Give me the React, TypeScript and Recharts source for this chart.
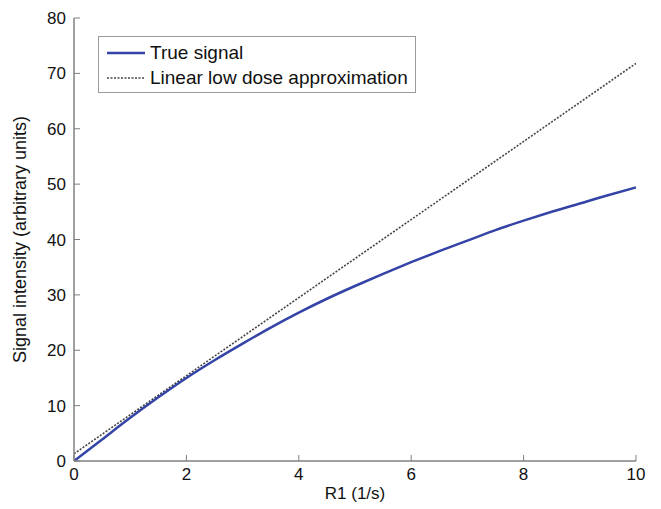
import React from "react";
import { LineChart, Line, XAxis, YAxis } from "recharts";

// R1 (1/s) sample points and signal
const r1Values = [0, 0.5, 1, 1.5, 2, 2.5, 3, 3.5, 4, 4.5, 5, 5.5, 6, 6.5, 7, 7.5, 8, 8.5, 9, 9.5, 10];
const trueSignal = [0, 3.9, 7.8, 11.5, 15.0, 18.2, 21.2, 24.1, 26.8, 29.3, 31.6, 33.8, 35.9, 37.9, 39.8, 41.7, 43.4, 45.0, 46.5, 48.0, 49.4];
const linearR1 = [0, 10];
const linearSignal = [1.3, 71.8];

const xTicks = [0, 2, 4, 6, 8, 10];
const yTicks = [0, 10, 20, 30, 40, 50, 60, 70, 80];

const trueData = r1Values.map((r1, i) => ({ r1, signal: trueSignal[i] }));
const linearData = linearR1.map((r1, i) => ({ r1, signal: linearSignal[i] }));

const FONT = '"Liberation Sans", Arial, sans-serif';
const AXIS = "#808080";
const BLUE = "#3343a6";
const DOT = "#444";

const legendItems = [
  { name: "True signal", color: BLUE, width: 2.5, dash: undefined as string | undefined },
  { name: "Linear low dose approximation", color: DOT, width: 1.5, dash: "2 1.5" },
];

const noTick = () => <g />;

const LegendBox = () => (
  <div
    style={{
      position: "absolute",
      left: 90,
      top: 28,
      border: "1px solid #9a9a9a",
      background: "#fff",
      width: 318,
      height: 57,
      boxSizing: "border-box",
      padding: "3px 0 0 8px",
      fontFamily: FONT,
      fontSize: 19,
      color: "#111",
    }}
  >
    {legendItems.map((it) => (
      <div key={it.name} style={{ display: "flex", alignItems: "center", height: 25 }}>
        <svg width={38} height={6} style={{ marginRight: 5 }}>
          <line x1={0} y1={3} x2={38} y2={3} stroke={it.color} strokeWidth={it.width} strokeDasharray={it.dash} />
        </svg>
        <span>{it.name}</span>
      </div>
    ))}
  </div>
);

export default function App() {
  return (
    <div style={{ fontFamily: FONT, position: "relative", width: 645, height: 495 }}>
      <LineChart width={645} height={495} margin={{ top: 10, right: 17, left: 0, bottom: 0 }}>
        <XAxis
          xAxisId="b"
          dataKey="r1"
          type="number"
          domain={[0, 10]}
          ticks={xTicks}
          allowDataOverflow
          height={42}
          tickSize={-6}
          tickMargin={13}
          axisLine={{ stroke: AXIS, strokeWidth: 1.5 }}
          tickLine={{ stroke: AXIS }}
          tick={{ fill: "#111", fontSize: 17, fontFamily: FONT }}
          label={{ value: "R1 (1/s)", position: "insideBottom", offset: 4, style: { fill: "#111", fontSize: 17, fontFamily: FONT } }}
        />
        <XAxis
          xAxisId="t"
          orientation="top"
          dataKey="r1"
          type="number"
          domain={[0, 10]}
          ticks={xTicks}
          height={0}
          tickSize={-6}
          axisLine={{ stroke: AXIS, strokeWidth: 1.5 }}
          tickLine={{ stroke: AXIS }}
          tick={noTick}
        />
        <YAxis
          yAxisId="l"
          type="number"
          domain={[0, 80]}
          ticks={yTicks}
          width={66}
          tickSize={-6}
          tickMargin={14}
          axisLine={{ stroke: AXIS, strokeWidth: 1.5 }}
          tickLine={{ stroke: AXIS }}
          tick={{ fill: "#111", fontSize: 17, fontFamily: FONT }}
          label={{
            value: "Signal intensity (arbitrary units)",
            angle: -90,
            position: "insideLeft",
            offset: 12,
            style: { textAnchor: "middle", fill: "#111", fontSize: 18, fontFamily: FONT },
          }}
        />
        <YAxis
          yAxisId="r"
          orientation="right"
          type="number"
          domain={[0, 80]}
          ticks={yTicks}
          width={0}
          tickSize={-6}
          axisLine={{ stroke: AXIS, strokeWidth: 1.5 }}
          tickLine={{ stroke: AXIS }}
          tick={noTick}
        />
        <Line
          xAxisId="b"
          yAxisId="l"
          data={linearData}
          dataKey="signal"
          name="Linear low dose approximation"
          stroke={DOT}
          strokeWidth={1.6}
          strokeDasharray="2 1.5"
          dot={false}
          isAnimationActive={false}
        />
        <Line
          xAxisId="b"
          yAxisId="l"
          data={trueData}
          dataKey="signal"
          name="True signal"
          type="monotone"
          stroke={BLUE}
          strokeWidth={2.5}
          dot={false}
          isAnimationActive={false}
        />
      </LineChart>
      <LegendBox />
    </div>
  );
}
